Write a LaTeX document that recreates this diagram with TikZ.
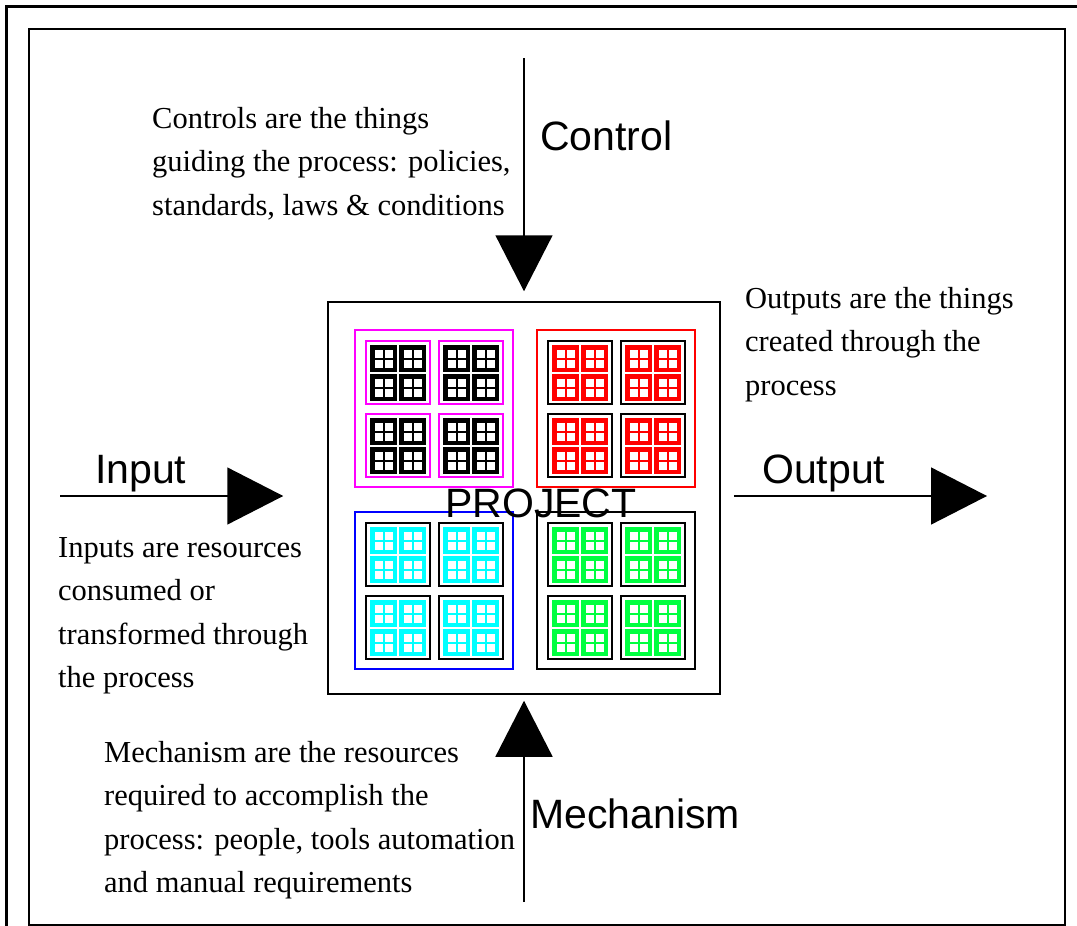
\documentclass[tikz,border=0pt]{standalone}
\usepackage{fontspec}
\setmainfont{Liberation Serif}
\newfontfamily\labelfont{Liberation Sans}
\usetikzlibrary{arrows.meta}

\definecolor{quadmag}{RGB}{255,0,255}
\definecolor{quadred}{RGB}{255,0,0}
\definecolor{quadcyan}{RGB}{0,255,255}
\definecolor{quadgreen}{RGB}{0,255,64}
\definecolor{quadblue}{RGB}{0,0,255}

% one quadrant: x, y, frame colour, box colour, cell colour
\newcommand{\drawquad}[5]{%
  \draw[#3, line width=1.2pt] (#1,#2) rectangle ++(158,157);
  \foreach \sx in {11,84} \foreach \sy in {11,84} {
    \draw[#4, line width=1.2pt] (#1+\sx,#2+\sy) rectangle ++(64,63);
    \foreach \cx in {4,33} \foreach \cy in {4,33} {
      \fill[#5] (#1+\sx+\cx,#2+\sy+\cy) rectangle ++(27,27);
      \foreach \hx in {4.5,14.5} \foreach \hy in {4.5,14.5}
        \fill[white] (#1+\sx+\cx+\hx,#2+\sy+\cy+\hy) rectangle ++(8,8);
    }
  }
}

\begin{document}
\begin{tikzpicture}[x=1pt,y=-1pt,
  flow/.style={line width=1.5pt,-{Triangle[length=56pt,width=57pt]}},
  biglabel/.style={font=\labelfont\fontsize{41}{49}\selectfont,inner sep=0pt,anchor=base west},
  note/.style={font=\fontsize{30.5}{43.5}\selectfont,align=left,inner sep=0pt,anchor=north west}]
  \useasboundingbox (0,0) rectangle (1077,926);
  \draw[line width=3pt] (6,926) -- (6,6) -- (1077,6);
  \draw[line width=1.5pt] (29,29) rectangle (1065,925);

  \node[draw,line width=1.5pt,minimum size=392pt,inner sep=0pt] (project) at (524,498) {};
  \drawquad{355}{330}{quadmag}{quadmag}{black}
  \drawquad{537}{330}{quadred}{black}{quadred}
  \drawquad{355}{512}{quadblue}{black}{quadcyan}
  \drawquad{537}{512}{black}{black}{quadgreen}
  \node[biglabel] (projname) at (445,517) {PROJECT};

  \coordinate (ctrlstart) at (524,58);
  \coordinate (inpstart) at (60,496);
  \coordinate (outend) at (987,496);
  \coordinate (mechstart) at (524,902);
  \draw[flow,shorten >=10pt] (ctrlstart) -- (project.north);
  \draw[flow,shorten >=44pt] (inpstart) -- (inpstart -| project.west);
  \draw[flow,shorten <=13pt] (outend -| project.east) -- (outend);
  \draw[flow,shorten >=6pt] (mechstart) -- (project.south);

  \node[biglabel] (ctrl) at (540,150) {Control};
  \node[biglabel] (inp) at (95,483) {Input};
  \node[biglabel] (outp) at (762,483) {Output};
  \node[biglabel] (mech) at (530,828) {Mechanism};

  \node[note] (ctrlnote) at (152,107) {Controls are the things\\guiding the process: policies,\\standards, laws \& conditions};
  \node[note] (outnote) at (745,287) {Outputs are the things\\created through the\\process};
  \node[note] (inpnote) at (58,537) {Inputs are resources\\consumed or\\transformed through\\the process};
  \node[note] (mechnote) at (104,741) {Mechanism are the resources\\required to accomplish the\\process: people, tools automation\\and manual requirements};
\end{tikzpicture}
\end{document}
